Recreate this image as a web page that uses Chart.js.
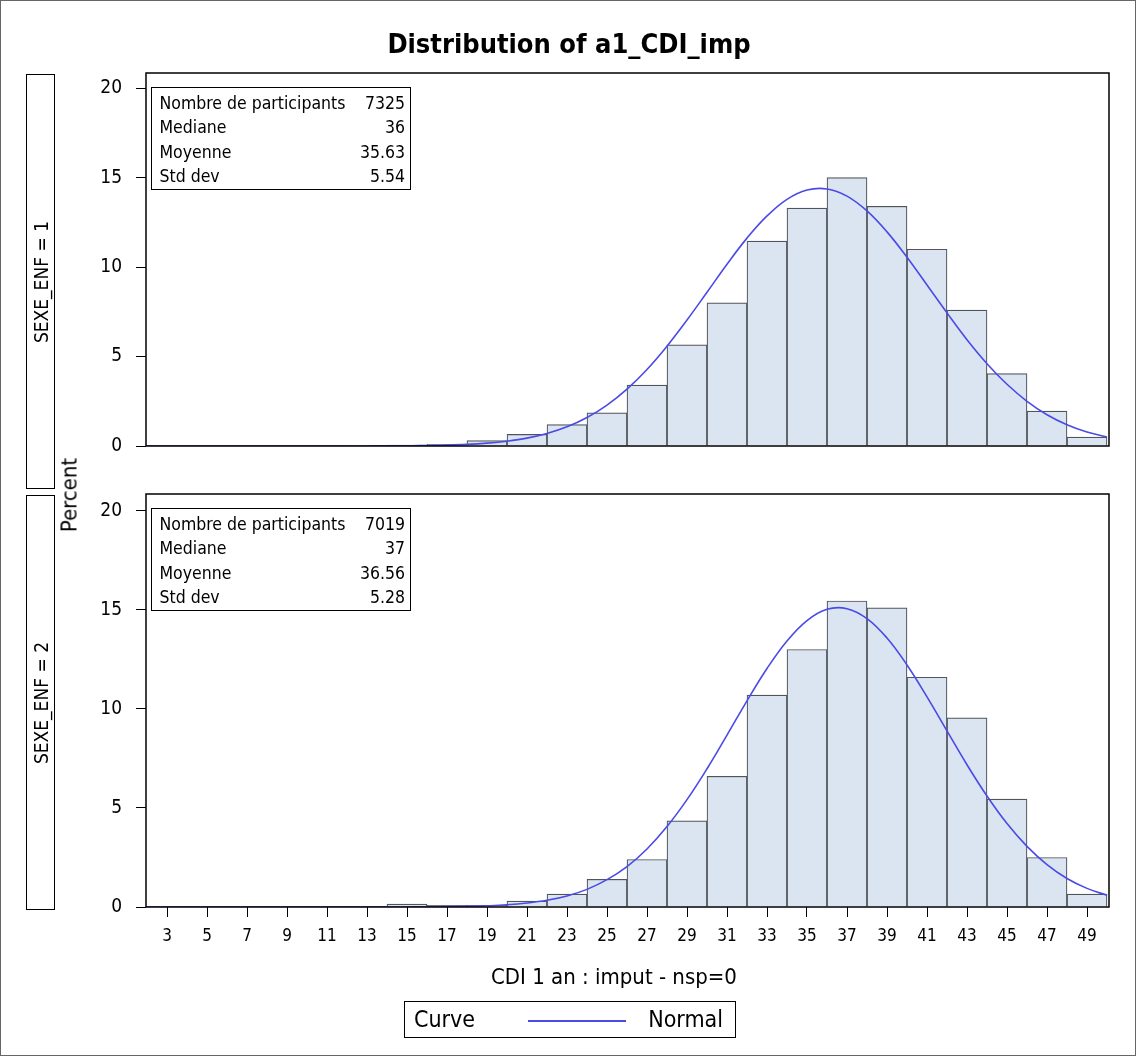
<!DOCTYPE html>
<html>
<head>
<meta charset="utf-8">
<script src="https://cdn.jsdelivr.net/npm/chart.js@4.4.1/dist/chart.umd.min.js"></script>
<style>
    body { margin: 0; background: #fff; }
    #page {
        position: relative; width: 1136px; height: 1056px; overflow: hidden;
        font-family: "DejaVu Sans Condensed", "DejaVu Sans", sans-serif; font-stretch: condensed; color: #000;
        box-sizing: border-box; border: 1px solid #666;
    }
    canvas { position: absolute; left: -1px; top: -1px; }
    .titre { position: absolute; left: 0; width: 1136px; top: 27px; text-align: center; font-weight: bold; font-size: 27px; }
    .rang { position: absolute; left: 25px; width: 27px; border: 1px solid #000; }
    .rang span {
        position: absolute; left: 50%; top: 50%; white-space: nowrap; font-size: 19px;
        transform: translate(-50%, -50%) rotate(-90deg);
    }
    .percent { position: absolute; left: 68px; top: 494px; font-size: 22px; white-space: nowrap; transform: translate(-50%, -50%) rotate(-90deg); }
    .stats {
        position: absolute; left: 150px; width: 260px; height: 103px; border: 1.5px solid #000; padding: 2.5px 5px 0 7.5px; box-sizing: border-box;
        font-size: 17.5px;
    }
    .stats div { display: flex; justify-content: space-between; height: 24.5px; line-height: 24.5px; }
    .xtitre { position: absolute; left: 0; width: 1226px; top: 963px; text-align: center; font-size: 22px; }
    .legende {
        position: absolute; left: 403px; top: 1000px; width: 332px; height: 37px; border: 1px solid #000; box-sizing: border-box;
        font-size: 23px; line-height: 35px;
    }
    .legende .c { position: absolute; left: 9px; top: 0; }
    .legende .n { position: absolute; right: 12px; top: 0; }
    .legende .trait { position: absolute; left: 123px; top: 18px; width: 98px; height: 2px; background: #4a4ae6; }
</style>
</head>
<body>
<div id="page">
    <canvas id="panneau1" width="1136" height="1056"></canvas>
    <canvas id="panneau2" width="1136" height="1056"></canvas>

    <div class="titre">Distribution of a1_CDI_imp</div>

    <div class="rang" style="top:73px;height:413px;"><span>SEXE_ENF = 1</span></div>
    <div class="rang" style="top:494px;height:413px;"><span>SEXE_ENF = 2</span></div>
    <div class="percent">Percent</div>

    <div class="stats" id="stats1" style="top:86px;"></div>
    <div class="stats" id="stats2" style="top:507px;"></div>

    <div class="xtitre">CDI 1 an : imput - nsp=0</div>
    <div class="legende"><span class="c">Curve</span><span class="trait"></span><span class="n">Normal</span></div>
</div>

<script>
// centres des classes (largeur 2)
const classes = [3, 5, 7, 9, 11, 13, 15, 17, 19, 21, 23, 25, 27, 29, 31, 33, 35, 37, 39, 41, 43, 45, 47, 49];
const pctSexe1 = [0.02, 0.01, 0.01, 0.01, 0.02, 0.03, 0.05, 0.1, 0.3, 0.65, 1.2, 1.85, 3.4, 5.65, 8.0, 11.45, 13.3, 15.0, 13.4, 11.0, 7.6, 4.05, 1.95, 0.5];
const pctSexe2 = [0.01, 0.01, 0.01, 0.01, 0.01, 0.02, 0.15, 0.08, 0.08, 0.3, 0.65, 1.4, 2.4, 4.35, 6.6, 10.7, 13.0, 15.45, 15.1, 11.6, 9.55, 5.45, 2.5, 0.65];

// courbe normale
const courbeX = [2, 3, 4, 5, 6, 7, 8, 9, 10, 11, 12, 13, 14, 15, 16, 17, 18, 19, 20, 21, 22, 23, 24, 25, 26,
    27, 28, 29, 30, 31, 32, 33, 34, 35, 36, 37, 38, 39, 40, 41, 42, 43, 44, 45, 46, 47, 48, 49, 50];
const normale1 = [0, 0, 0, 0, 0, 0, 0, 0, 0, 0, 0, 0, 0.01, 0.01, 0.03, 0.05, 0.09, 0.16, 0.27, 0.44, 0.70, 1.07, 1.59, 2.29, 3.18,
    4.28, 5.58, 7.04, 8.59, 10.16, 11.62, 12.86, 13.79, 14.31, 14.37, 13.97, 13.14, 11.97, 10.55, 9.00, 7.44, 5.94, 4.60, 3.45, 2.50, 1.75, 1.19, 0.78, 0.50];
const normale2 = [0, 0, 0, 0, 0, 0, 0, 0, 0, 0, 0, 0, 0, 0, 0.01, 0.02, 0.03, 0.06, 0.11, 0.20, 0.34, 0.56, 0.89, 1.38, 2.04,
    2.93, 4.06, 5.42, 6.98, 8.68, 10.41, 12.04, 13.43, 14.46, 15.03, 15.06, 14.56, 13.58, 12.22, 10.61, 8.89, 7.18, 5.60, 4.21, 3.06, 2.14, 1.44, 0.94, 0.59];

const xTicks = [3, 5, 7, 9, 11, 13, 15, 17, 19, 21, 23, 25, 27, 29, 31, 33, 35, 37, 39, 41, 43, 45, 47, 49];
const yTicks = [0, 5, 10, 15, 20];

const statLabels = ['Nombre de participants', 'Mediane', 'Moyenne', 'Std dev'];
const stats1 = ['7325', '36', '35.63', '5.54'];
const stats2 = ['7019', '37', '36.56', '5.28'];

const police = 'DejaVu Sans Condensed, DejaVu Sans';

function remplirStats(id, valeurs) {
    const box = document.getElementById(id);
    box.innerHTML = statLabels.map((l, i) => '<div><span>' + l + '</span><span>' + valeurs[i] + '</span></div>').join('');
}
remplirStats('stats1', stats1);
remplirStats('stats2', stats2);

const cadre = {
    id: 'cadre',
    afterDraw(chart) {
        const a = chart.chartArea;
        const ctx = chart.ctx;
        ctx.save();
        ctx.strokeStyle = '#000';
        ctx.lineWidth = 1.5;
        ctx.strokeRect(a.left, a.top, a.right - a.left, a.bottom - a.top);
        ctx.restore();
    }
};

function panneau(id, pct, normale, top, bas) {
    new Chart(document.getElementById(id).getContext('2d'), {
        type: 'bar',
        data: {
            datasets: [{
                type: 'line',
                data: courbeX.map((x, i) => ({ x: x, y: normale[i] })),
                borderColor: '#4a4ae6',
                borderWidth: 1.6,
                pointRadius: 0,
                tension: 0.4,
                order: 0
            }, {
                type: 'bar',
                data: classes.map((x, i) => ({ x: x, y: pct[i] })),
                backgroundColor: '#dbe5f1',
                borderColor: '#50555b',
                borderWidth: 1.2,
                barPercentage: 1,
                categoryPercentage: 1,
                order: 1
            }]
        },
        options: {
            responsive: false,
            animation: false,
            layout: { padding: { left: 80, right: 27, top: top, bottom: bas ? 109 : 1056 - 486 } },
            plugins: { legend: { display: false }, tooltip: { enabled: false } },
            scales: {
                x: {
                    type: 'linear',
                    min: 1.95,
                    max: 50.1,
                    offset: false,
                    display: bas,
                    afterBuildTicks: axis => { axis.ticks = xTicks.map(v => ({ value: v })); },
                    afterFit: axis => { axis.height = 40; },
                    grid: { offset: false, drawOnChartArea: false, tickLength: 10, color: '#000' },
                    border: { display: false },
                    ticks: { color: '#000', padding: 9, maxRotation: 0, autoSkip: false, font: { family: police, size: 17 } }
                },
                y: {
                    min: 0,
                    max: 20.85,
                    afterBuildTicks: axis => { axis.ticks = yTicks.map(v => ({ value: v })); },
                    afterFit: axis => { axis.width = 66; },
                    grid: { drawOnChartArea: false, tickLength: 10, color: '#000' },
                    border: { display: false },
                    ticks: { color: '#000', padding: 14, font: { family: police, size: 19 } }
                }
            }
        },
        plugins: [cadre]
    });
}

panneau('panneau1', pctSexe1, normale1, 73, false);
panneau('panneau2', pctSexe2, normale2, 494, true);
</script>
</body>
</html>
